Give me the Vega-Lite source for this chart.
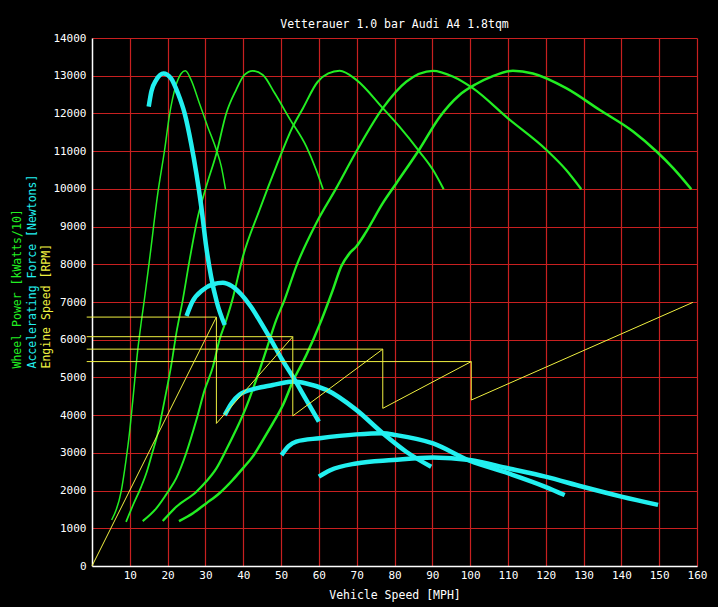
{
  "$schema": "https://vega.github.io/schema/vega-lite/v6.json",
  "width": 605,
  "height": 528,
  "autosize": {"type": "none"},
  "padding": {"left": 92, "top": 38, "right": 21, "bottom": 41},
  "background": "#000000",
  "title": {
    "text": "Vetterauer 1.0 bar Audi A4 1.8tqm",
    "color": "#ffffff",
    "font": "DejaVu Sans Mono",
    "fontSize": 11.5,
    "fontWeight": "normal",
    "frame": "group",
    "anchor": "middle",
    "offset": 2
  },
  "config": {
    "view": {"stroke": null},
    "axis": {
      "ticks": false,
      "labelFlush": false,
      "labelColor": "#ffffff",
      "labelFont": "DejaVu Sans Mono",
      "labelFontSize": 11,
      "titleFont": "DejaVu Sans Mono",
      "titleFontSize": 11.5,
      "titleFontWeight": "normal",
      "titleColor": "#ffffff",
      "domainColor": "#ffffff",
      "domainWidth": 1.5,
      "gridColor": "#c82020",
      "gridWidth": 1.2,
      "gridOpacity": 1
    }
  },
  "datasets": {
    "power": [
      {"gear": 1, "mph": 5.2, "kw": 1220}, {"gear": 1, "mph": 7.7, "kw": 1970}, {"gear": 1, "mph": 9.0, "kw": 2810},
      {"gear": 1, "mph": 9.9, "kw": 3520}, {"gear": 1, "mph": 10.8, "kw": 4400}, {"gear": 1, "mph": 12.1, "kw": 5730},
      {"gear": 1, "mph": 13.0, "kw": 6450}, {"gear": 1, "mph": 13.9, "kw": 7100}, {"gear": 1, "mph": 15.2, "kw": 8110},
      {"gear": 1, "mph": 17.4, "kw": 9880}, {"gear": 1, "mph": 19.2, "kw": 11030}, {"gear": 1, "mph": 20.5, "kw": 11960},
      {"gear": 1, "mph": 22.1, "kw": 12710}, {"gear": 1, "mph": 23.6, "kw": 13060}, {"gear": 1, "mph": 24.7, "kw": 13130},
      {"gear": 1, "mph": 26.2, "kw": 12890}, {"gear": 1, "mph": 28.4, "kw": 12270}, {"gear": 1, "mph": 30.6, "kw": 11650},
      {"gear": 1, "mph": 32.9, "kw": 11030}, {"gear": 1, "mph": 34.2, "kw": 10590}, {"gear": 1, "mph": 35.3, "kw": 9990},

      {"gear": 2, "mph": 9.0, "kw": 1170}, {"gear": 2, "mph": 11.0, "kw": 1650}, {"gear": 2, "mph": 13.0, "kw": 2100},
      {"gear": 2, "mph": 14.5, "kw": 2500}, {"gear": 2, "mph": 15.8, "kw": 2950}, {"gear": 2, "mph": 17.4, "kw": 3520},
      {"gear": 2, "mph": 19.2, "kw": 4400},
      {"gear": 2, "mph": 20.9, "kw": 5290}, {"gear": 2, "mph": 22.3, "kw": 6170}, {"gear": 2, "mph": 24.0, "kw": 7050},
      {"gear": 2, "mph": 25.8, "kw": 8110}, {"gear": 2, "mph": 28.0, "kw": 9260}, {"gear": 2, "mph": 30.2, "kw": 10060},
      {"gear": 2, "mph": 32.9, "kw": 10940}, {"gear": 2, "mph": 35.5, "kw": 12000}, {"gear": 2, "mph": 38.1, "kw": 12620},
      {"gear": 2, "mph": 40.3, "kw": 13020}, {"gear": 2, "mph": 42.5, "kw": 13130}, {"gear": 2, "mph": 45.2, "kw": 13020},
      {"gear": 2, "mph": 48.3, "kw": 12540}, {"gear": 2, "mph": 52.2, "kw": 11870}, {"gear": 2, "mph": 56.7, "kw": 11120},
      {"gear": 2, "mph": 59.3, "kw": 10500}, {"gear": 2, "mph": 61.1, "kw": 9990},

      {"gear": 3, "mph": 13.4, "kw": 1190}, {"gear": 3, "mph": 17.0, "kw": 1530}, {"gear": 3, "mph": 20.1, "kw": 1970},
      {"gear": 3, "mph": 22.3, "kw": 2330}, {"gear": 3, "mph": 24.9, "kw": 2990}, {"gear": 3, "mph": 27.6, "kw": 3870},
      {"gear": 3, "mph": 29.8, "kw": 4670}, {"gear": 3, "mph": 32.0, "kw": 5290}, {"gear": 3, "mph": 33.7, "kw": 5990},
      {"gear": 3, "mph": 35.5, "kw": 6520}, {"gear": 3, "mph": 37.1, "kw": 7050}, {"gear": 3, "mph": 39.9, "kw": 8200},
      {"gear": 3, "mph": 44.3, "kw": 9440}, {"gear": 3, "mph": 48.7, "kw": 10590}, {"gear": 3, "mph": 53.1, "kw": 11650},
      {"gear": 3, "mph": 55.8, "kw": 12140}, {"gear": 3, "mph": 59.7, "kw": 12840}, {"gear": 3, "mph": 62.5, "kw": 13060},
      {"gear": 3, "mph": 65.5, "kw": 13130}, {"gear": 3, "mph": 69.9, "kw": 12890}, {"gear": 3, "mph": 76.9, "kw": 12140},
      {"gear": 3, "mph": 81.3, "kw": 11650}, {"gear": 3, "mph": 86.6, "kw": 10990}, {"gear": 3, "mph": 90.2, "kw": 10500},
      {"gear": 3, "mph": 93.0, "kw": 9990},

      {"gear": 4, "mph": 18.7, "kw": 1190}, {"gear": 4, "mph": 22.3, "kw": 1570}, {"gear": 4, "mph": 27.6, "kw": 1970},
      {"gear": 4, "mph": 30.2, "kw": 2240}, {"gear": 4, "mph": 32.9, "kw": 2590}, {"gear": 4, "mph": 35.5, "kw": 3080},
      {"gear": 4, "mph": 38.1, "kw": 3610}, {"gear": 4, "mph": 40.8, "kw": 4220}, {"gear": 4, "mph": 43.4, "kw": 4930},
      {"gear": 4, "mph": 46.1, "kw": 5730}, {"gear": 4, "mph": 48.7, "kw": 6520}, {"gear": 4, "mph": 50.9, "kw": 7050},
      {"gear": 4, "mph": 54.0, "kw": 7940}, {"gear": 4, "mph": 59.3, "kw": 9090}, {"gear": 4, "mph": 64.6, "kw": 10020},
      {"gear": 4, "mph": 69.9, "kw": 10990}, {"gear": 4, "mph": 76.9, "kw": 12140}, {"gear": 4, "mph": 83.1, "kw": 12840},
      {"gear": 4, "mph": 90.2, "kw": 13130}, {"gear": 4, "mph": 95.4, "kw": 12980}, {"gear": 4, "mph": 100.7, "kw": 12670},
      {"gear": 4, "mph": 110.0, "kw": 11870}, {"gear": 4, "mph": 120.2, "kw": 11030}, {"gear": 4, "mph": 125.4, "kw": 10500},
      {"gear": 4, "mph": 129.4, "kw": 9990},

      {"gear": 5, "mph": 23.0, "kw": 1190}, {"gear": 5, "mph": 26.7, "kw": 1400}, {"gear": 5, "mph": 30.2, "kw": 1660},
      {"gear": 5, "mph": 33.7, "kw": 1930}, {"gear": 5, "mph": 37.2, "kw": 2280}, {"gear": 5, "mph": 39.9, "kw": 2590},
      {"gear": 5, "mph": 42.5, "kw": 2900}, {"gear": 5, "mph": 45.2, "kw": 3340}, {"gear": 5, "mph": 47.8, "kw": 3780},
      {"gear": 5, "mph": 50.5, "kw": 4270}, {"gear": 5, "mph": 53.1, "kw": 4890}, {"gear": 5, "mph": 56.7, "kw": 5600},
      {"gear": 5, "mph": 60.6, "kw": 6500}, {"gear": 5, "mph": 63.7, "kw": 7320}, {"gear": 5, "mph": 65.9, "kw": 7940},
      {"gear": 5, "mph": 68.1, "kw": 8290}, {"gear": 5, "mph": 69.9, "kw": 8470}, {"gear": 5, "mph": 72.5, "kw": 8860},
      {"gear": 5, "mph": 76.9, "kw": 9620}, {"gear": 5, "mph": 80.5, "kw": 10150},
      {"gear": 5, "mph": 86.6, "kw": 11050}, {"gear": 5, "mph": 91.9, "kw": 11900}, {"gear": 5, "mph": 97.2, "kw": 12490},
      {"gear": 5, "mph": 101.6, "kw": 12780}, {"gear": 5, "mph": 106.0, "kw": 12990}, {"gear": 5, "mph": 111.3, "kw": 13130},
      {"gear": 5, "mph": 116.6, "kw": 13060}, {"gear": 5, "mph": 125.4, "kw": 12670}, {"gear": 5, "mph": 134.3, "kw": 12090},
      {"gear": 5, "mph": 143.1, "kw": 11520}, {"gear": 5, "mph": 149.3, "kw": 10990}, {"gear": 5, "mph": 153.7, "kw": 10550},
      {"gear": 5, "mph": 158.5, "kw": 9990}
    ],
    "force": [
      {"gear": 1, "mph": 15.0, "n": 12180}, {"gear": 1, "mph": 15.7, "n": 12580}, {"gear": 1, "mph": 17.0, "n": 12890},
      {"gear": 1, "mph": 18.9, "n": 13060}, {"gear": 1, "mph": 20.9, "n": 12930}, {"gear": 1, "mph": 22.7, "n": 12540},
      {"gear": 1, "mph": 24.5, "n": 12000}, {"gear": 1, "mph": 26.2, "n": 11210}, {"gear": 1, "mph": 27.6, "n": 10410},
      {"gear": 1, "mph": 28.9, "n": 9530}, {"gear": 1, "mph": 30.2, "n": 8470}, {"gear": 1, "mph": 31.5, "n": 7670},
      {"gear": 1, "mph": 33.0, "n": 7000}, {"gear": 1, "mph": 35.1, "n": 6390},

      {"gear": 2, "mph": 25.0, "n": 6630}, {"gear": 2, "mph": 26.5, "n": 7000}, {"gear": 2, "mph": 29.3, "n": 7320},
      {"gear": 2, "mph": 32.0, "n": 7470}, {"gear": 2, "mph": 34.6, "n": 7510}, {"gear": 2, "mph": 37.0, "n": 7420},
      {"gear": 2, "mph": 39.5, "n": 7200}, {"gear": 2, "mph": 42.0, "n": 6880}, {"gear": 2, "mph": 44.5, "n": 6480},
      {"gear": 2, "mph": 47.6, "n": 5950}, {"gear": 2, "mph": 50.0, "n": 5520}, {"gear": 2, "mph": 53.1, "n": 5020},
      {"gear": 2, "mph": 56.7, "n": 4400}, {"gear": 2, "mph": 60.0, "n": 3830},

      {"gear": 3, "mph": 35.1, "n": 4000}, {"gear": 3, "mph": 37.0, "n": 4330}, {"gear": 3, "mph": 39.0, "n": 4540},
      {"gear": 3, "mph": 43.4, "n": 4710}, {"gear": 3, "mph": 47.8, "n": 4800}, {"gear": 3, "mph": 51.4, "n": 4870},
      {"gear": 3, "mph": 53.1, "n": 4890}, {"gear": 3, "mph": 56.7, "n": 4840}, {"gear": 3, "mph": 62.0, "n": 4670},
      {"gear": 3, "mph": 69.9, "n": 4140}, {"gear": 3, "mph": 76.9, "n": 3520}, {"gear": 3, "mph": 83.1, "n": 3030},
      {"gear": 3, "mph": 89.7, "n": 2630},

      {"gear": 4, "mph": 50.1, "n": 2940}, {"gear": 4, "mph": 52.0, "n": 3180}, {"gear": 4, "mph": 54.0, "n": 3300},
      {"gear": 4, "mph": 60.2, "n": 3390}, {"gear": 4, "mph": 69.9, "n": 3490}, {"gear": 4, "mph": 76.9, "n": 3520},
      {"gear": 4, "mph": 80.5, "n": 3470}, {"gear": 4, "mph": 90.2, "n": 3250}, {"gear": 4, "mph": 99.9, "n": 2790},
      {"gear": 4, "mph": 110.0, "n": 2460}, {"gear": 4, "mph": 119.9, "n": 2100}, {"gear": 4, "mph": 125.0, "n": 1880},

      {"gear": 5, "mph": 60.0, "n": 2370}, {"gear": 5, "mph": 63.0, "n": 2540}, {"gear": 5, "mph": 69.9, "n": 2720},
      {"gear": 5, "mph": 79.6, "n": 2810}, {"gear": 5, "mph": 90.2, "n": 2880}, {"gear": 5, "mph": 99.9, "n": 2810},
      {"gear": 5, "mph": 110.0, "n": 2590}, {"gear": 5, "mph": 119.9, "n": 2370}, {"gear": 5, "mph": 129.8, "n": 2100},
      {"gear": 5, "mph": 140.0, "n": 1840}, {"gear": 5, "mph": 149.7, "n": 1620}
    ],
    "rpm": [
      {"seg": "saw", "mph": 0, "rpm": 0}, {"seg": "saw", "mph": 32.9, "rpm": 6600}, {"seg": "saw", "mph": 32.9, "rpm": 3780},
      {"seg": "saw", "mph": 53.1, "rpm": 6080}, {"seg": "saw", "mph": 53.1, "rpm": 3980}, {"seg": "saw", "mph": 76.9, "rpm": 5750},
      {"seg": "saw", "mph": 76.9, "rpm": 4180}, {"seg": "saw", "mph": 100.3, "rpm": 5420}, {"seg": "saw", "mph": 100.3, "rpm": 4400},
      {"seg": "saw", "mph": 158.9, "rpm": 6990},
      {"seg": "shift1", "mph": -1.4, "rpm": 6600}, {"seg": "shift1", "mph": 32.9, "rpm": 6600},
      {"seg": "shift2", "mph": -1.4, "rpm": 6080}, {"seg": "shift2", "mph": 53.1, "rpm": 6080},
      {"seg": "shift3", "mph": -1.4, "rpm": 5750}, {"seg": "shift3", "mph": 76.9, "rpm": 5750},
      {"seg": "shift4", "mph": -1.4, "rpm": 5420}, {"seg": "shift4", "mph": 100.3, "rpm": 5420}
    ]
  },
  "encoding": {
    "x": {
      "field": "mph",
      "type": "quantitative",
      "scale": {"domain": [0, 160], "nice": false, "zero": false},
      "axis": {
        "values": [10, 20, 30, 40, 50, 60, 70, 80, 90, 100, 110, 120, 130, 140, 150, 160],
        "title": "Vehicle Speed [MPH]",
        "labelPadding": 3,
        "titlePadding": 9,
        "grid": true
      }
    }
  },
  "layer": [
    {
      "data": {"name": "power"},
      "mark": {"type": "line", "color": "#22ee22", "interpolate": "monotone", "strokeJoin": "round"},
      "encoding": {
        "y": {
          "field": "kw",
          "type": "quantitative",
          "scale": {"domain": [0, 14000], "nice": false},
          "axis": {
            "orient": "left",
            "values": [0, 1000, 2000, 3000, 4000, 5000, 6000, 7000, 8000, 9000, 10000, 11000, 12000, 13000, 14000],
            "format": "d",
            "grid": true,
            "labelPadding": 6,
            "title": "Wheel Power [kWatts/10]",
            "titleColor": "#22ee22",
            "titleX": -75,
            "titleY": 330,
            "titleAngle": 270,
            "titleAlign": "left",
            "titleBaseline": "middle"
          }
        },
        "detail": {"field": "gear", "type": "nominal"},
        "strokeWidth": {
          "field": "gear",
          "type": "ordinal",
          "scale": {"domain": [1, 2, 3, 4, 5], "range": [1.5, 2.5, 3.5, 4.2, 5]},
          "legend": null
        }
      }
    },
    {
      "data": {"name": "force"},
      "mark": {"type": "line", "color": "#22f0f0", "strokeWidth": 4.5, "interpolate": "monotone", "strokeJoin": "round"},
      "encoding": {
        "y": {
          "field": "n",
          "type": "quantitative",
          "scale": {"domain": [0, 14000], "nice": false},
          "axis": {
            "orient": "left",
            "labels": false,
            "domain": false,
            "grid": false,
            "title": "Accelerating Force [Newtons]",
            "titleColor": "#22f0f0",
            "titleX": -60,
            "titleY": 330,
            "titleAngle": 270,
            "titleAlign": "left",
            "titleBaseline": "middle"
          }
        },
        "detail": {"field": "gear", "type": "nominal"}
      }
    },
    {
      "data": {"name": "rpm"},
      "mark": {"type": "line", "color": "#f0f040", "strokeWidth": 1},
      "encoding": {
        "y": {
          "field": "rpm",
          "type": "quantitative",
          "scale": {"domain": [0, 14000], "nice": false},
          "axis": {
            "orient": "left",
            "labels": false,
            "domain": false,
            "grid": false,
            "title": "Engine Speed [RPM]",
            "titleColor": "#f0f040",
            "titleX": -46,
            "titleY": 330,
            "titleAngle": 270,
            "titleAlign": "left",
            "titleBaseline": "middle"
          }
        },
        "detail": {"field": "seg", "type": "nominal"},
        "order": {"value": null}
      }
    }
  ],
  "resolve": {"axis": {"y": "independent"}}
}
